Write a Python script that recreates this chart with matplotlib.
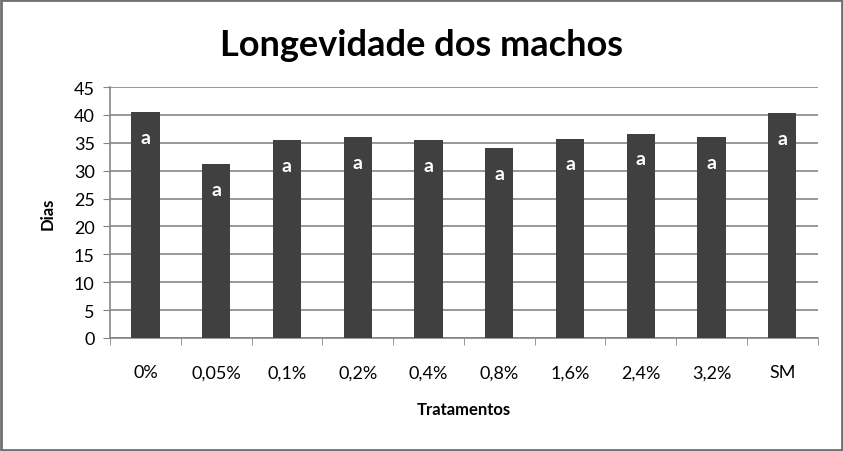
import matplotlib.pyplot as plt
from matplotlib.patches import Rectangle
import numpy as np

# Longevidade dos machos por tratamento
tratamentos = ["0%", "0,05%", "0,1%", "0,2%", "0,4%", "0,8%", "1,6%", "2,4%", "3,2%", "SM"]
dias = [40.5, 31.2, 35.5, 36.0, 35.5, 34.0, 35.7, 36.6, 36.0, 40.3]
letras = ["a"] * len(tratamentos)

plt.rcParams['font.family'] = ['Lato', 'DejaVu Sans']
grid_color = '#868686'

fig = plt.figure(figsize=(8.43, 4.52), dpi=100)
ax = fig.add_axes([0.1305, 0.25, 0.8395, 0.5553])

x = np.arange(len(tratamentos))
ax.bar(x, dias, width=0.4, color='#404040', zorder=3)

for xi, v, letra in zip(x, dias, letras):
    ax.text(xi, v - 4.5, letra, ha='center', va='center', color='white',
            fontsize=14, fontweight='bold', zorder=4)

ax.set_xlim(-0.5, len(tratamentos) - 0.5)
ax.set_ylim(0, 45)
ax.set_yticks(np.arange(0, 46, 5))
ax.yaxis.grid(True, color=grid_color, linewidth=1.2, zorder=0)
ax.set_axisbelow(True)

ax.set_xticks(x)
ax.set_xticklabels(tratamentos, fontsize=13)
ax.set_xticks(np.arange(-0.5, len(tratamentos)), minor=True)
ax.tick_params(axis='x', which='major', length=0, pad=19)
ax.tick_params(axis='x', which='minor', length=5, color=grid_color, direction='out')
ax.tick_params(axis='y', length=5, color=grid_color, pad=6, labelsize=13)

for side in ['top', 'right']:
    ax.spines[side].set_visible(False)
for side in ['left', 'bottom']:
    ax.spines[side].set_color(grid_color)
    ax.spines[side].set_linewidth(1.2)

ax.set_xlabel('Tratamentos', fontsize=12, fontweight='bold', labelpad=15)
ax.set_ylabel('Dias', fontsize=12, fontweight='bold', labelpad=13)

fig.text(0.5, 0.9, 'Longevidade dos machos', ha='center', va='center',
         fontsize=26, fontweight='bold')

# moldura cinza em volta do gráfico
fig.patches.append(Rectangle((0.001, 0.002), 0.998, 0.996, transform=fig.transFigure,
                             fill=False, edgecolor='#6f6f6f', linewidth=2))

fig.savefig('out.png', dpi=100)
